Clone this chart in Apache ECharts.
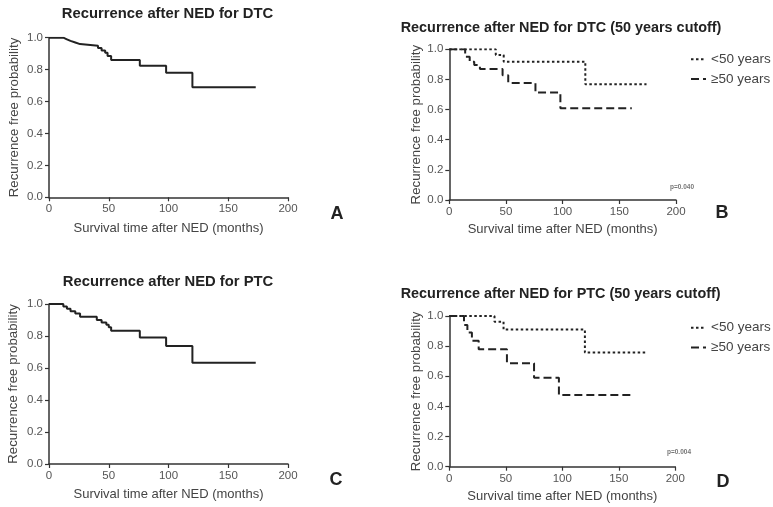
<!DOCTYPE html>
<html>
<head>
<meta charset="utf-8">
<script src="https://cdn.jsdelivr.net/npm/echarts@6/dist/echarts.min.js"></script>
<style>
html,body{margin:0;padding:0;background:#fff;}
#chart{width:773px;height:507px;}
</style>
</head>
<body>
<div id="chart"></div>
<script>
// Panel A: DTC overall
var aTime = [0, 12, 15, 18, 22, 26, 41, 44, 47, 49, 52, 76, 98, 120, 173];
var aSurv = [1, 0.99, 0.98, 0.97, 0.96, 0.95, 0.935, 0.92, 0.905, 0.885, 0.86, 0.825, 0.78, 0.69, 0.69];
// Panel B: DTC by age
var bYoungTime = [0, 41, 48, 120, 174];
var bYoungSurv = [1, 0.962, 0.918, 0.768, 0.768];
var bOldTime = [0, 14, 18, 22, 27, 47, 52, 76, 98, 161];
var bOldSurv = [1, 0.951, 0.918, 0.896, 0.869, 0.828, 0.777, 0.713, 0.608, 0.608];
// Panel C: PTC overall
var cTime = [0, 12, 15, 18, 22, 26, 40, 44, 48, 50, 52, 76, 98, 120, 173];
var cSurv = [1, 0.985, 0.97, 0.955, 0.94, 0.921, 0.90, 0.885, 0.87, 0.855, 0.833, 0.79, 0.738, 0.633, 0.633];
// Panel D: PTC by age
var dYoungTime = [0, 40, 48, 120, 175];
var dYoungSurv = [1, 0.962, 0.91, 0.757, 0.757];
var dOldTime = [0, 13, 16, 20, 26, 51, 75, 97, 162];
var dOldSurv = [1, 0.94, 0.89, 0.835, 0.78, 0.686, 0.59, 0.476, 0.476];

var xTicks = [0, 50, 100, 150, 200];
var yTicks = [0, 0.2, 0.4, 0.6, 0.8, 1.0];
var titles = ['Recurrence after NED for DTC', 'Recurrence after NED for DTC (50 years cutoff)',
              'Recurrence after NED for PTC', 'Recurrence after NED for PTC (50 years cutoff)'];
var panelLetters = ['A', 'B', 'C', 'D'];
var pValues = ['p=0.040', 'p=0.004'];
var groupNames = ['<50 years', '\u226550 years'];
var xName = 'Survival time after NED (months)';
var yName = 'Recurrence free probability';

function pairs(t, s) { return t.map(function (v, i) { return [v, s[i]]; }); }

var FONT = 'Liberation Sans, Arial, Helvetica, sans-serif';
var grids = [
  {left: 49, top: 37.7, width: 239, height: 159.6},
  {left: 449.3, top: 49.3, width: 226.7, height: 150.7},
  {left: 49, top: 304, width: 239, height: 160},
  {left: 449.3, top: 316, width: 226, height: 150.7}
];
var xGaps = [25, 23, 24, 23];
var yGaps = [28.5, 26, 29, 26];

function xAxis(i) {
  return {
    type: 'value', gridIndex: i, min: xTicks[0], max: xTicks[xTicks.length - 1], interval: 50,
    name: xName, nameLocation: 'middle', nameGap: xGaps[i],
    nameTextStyle: {fontFamily: FONT, fontSize: 13, color: '#444'},
    axisLine: {show: true, lineStyle: {color: '#333', width: 1.5}},
    axisTick: {show: true, length: 4, lineStyle: {color: '#333', width: 1.2}},
    axisLabel: {fontFamily: FONT, fontSize: 11.5, color: '#555', margin: 6},
    splitLine: {show: false}
  };
}
function yAxis(i) {
  return {
    type: 'value', gridIndex: i, min: yTicks[0], max: yTicks[yTicks.length - 1], interval: 0.2,
    name: yName, nameLocation: 'middle', nameGap: yGaps[i], nameRotate: 90,
    nameTextStyle: {fontFamily: FONT, fontSize: 13.3, color: '#444'},
    axisLine: {show: true, lineStyle: {color: '#333', width: 1.5}},
    axisTick: {show: true, length: 4, lineStyle: {color: '#333', width: 1.2}},
    axisLabel: {fontFamily: FONT, fontSize: 11.5, color: '#555', margin: 6,
      formatter: function (v) { return v.toFixed(1); }},
    splitLine: {show: false}
  };
}
function kmSeries(name, t, s, idx, dash) {
  return {
    type: 'line', name: name, xAxisIndex: idx, yAxisIndex: idx, step: 'end',
    symbol: 'none', silent: true, animation: false, color: '#222',
    data: pairs(t, s),
    itemStyle: {color: '#222'},
    lineStyle: {color: '#222', width: 2, type: dash || 'solid'}
  };
}
var DOT = [2.5, 2.5];
var DASH = [8, 4];

var titleStyleA = {fontFamily: FONT, fontSize: 14.8, fontWeight: 'bold', color: '#222'};
var titleStyleB = {fontFamily: FONT, fontSize: 14.4, fontWeight: 'bold', color: '#222'};
var letterStyle = {fontFamily: FONT, fontSize: 18, fontWeight: 'bold', color: '#222'};
var pStyle = {fontFamily: FONT, fontSize: 6.5, color: '#777'};
var legendBase = {
  data: groupNames, left: 690, orient: 'vertical', itemWidth: 15, itemHeight: 12, itemGap: 5.7,
  selectedMode: false, padding: 0, itemStyle: {opacity: 0},
  lineStyle: {width: 2, color: '#222'},
  textStyle: {fontFamily: FONT, fontSize: 13.5, color: '#444'}
};

var option = {
  backgroundColor: '#fff',
  animation: false,
  title: [
    {text: titles[0], left: 167.5, top: 6.5, textAlign: 'center', padding: 0, textStyle: titleStyleA},
    {text: titles[1], left: 400.7, top: 21, padding: 0, textStyle: titleStyleB},
    {text: titles[2], left: 168, top: 274, textAlign: 'center', padding: 0, textStyle: titleStyleA},
    {text: titles[3], left: 400.7, top: 287.5, padding: 0, textStyle: titleStyleB},
    {text: panelLetters[0], left: 337, top: 205, textAlign: 'center', padding: 0, textStyle: letterStyle},
    {text: panelLetters[1], left: 722, top: 204, textAlign: 'center', padding: 0, textStyle: letterStyle},
    {text: panelLetters[2], left: 336, top: 471, textAlign: 'center', padding: 0, textStyle: letterStyle},
    {text: panelLetters[3], left: 723, top: 473, textAlign: 'center', padding: 0, textStyle: letterStyle},
    {text: pValues[0], left: 682, top: 184, textAlign: 'center', padding: 0, textStyle: pStyle},
    {text: pValues[1], left: 679, top: 449, textAlign: 'center', padding: 0, textStyle: pStyle}
  ],
  legend: [
    Object.assign({}, legendBase, {top: 52.3}),
    Object.assign({}, legendBase, {top: 320.7})
  ],
  grid: grids,
  xAxis: [xAxis(0), xAxis(1), xAxis(2), xAxis(3)],
  yAxis: [yAxis(0), yAxis(1), yAxis(2), yAxis(3)],
  series: [
    kmSeries('DTC', aTime, aSurv, 0),
    kmSeries(groupNames[0], bYoungTime, bYoungSurv, 1, DOT),
    kmSeries(groupNames[1], bOldTime, bOldSurv, 1, DASH),
    kmSeries('PTC', cTime, cSurv, 2),
    kmSeries(groupNames[0], dYoungTime, dYoungSurv, 3, DOT),
    kmSeries(groupNames[1], dOldTime, dOldSurv, 3, DASH)
  ]
};
var chart = echarts.init(document.getElementById('chart'), null, {renderer: 'canvas'});
chart.setOption(option);
</script>
</body>
</html>
